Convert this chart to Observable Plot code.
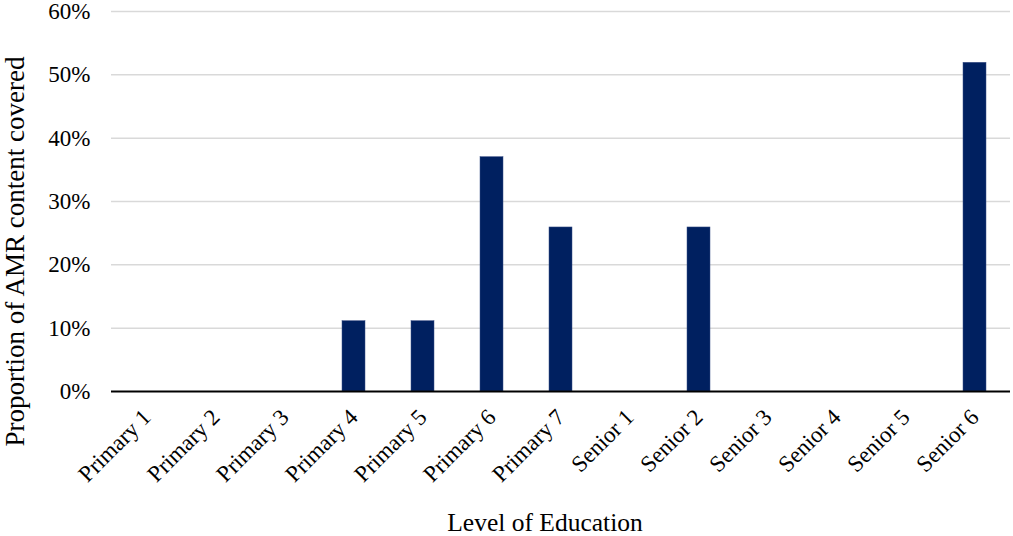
<!DOCTYPE html>
<html>
<head>
<meta charset="utf-8">
<script src="https://cdn.jsdelivr.net/npm/d3@7"></script>
<script src="https://cdn.jsdelivr.net/npm/@observablehq/plot@0.6"></script>
<style>
  html, body { margin: 0; padding: 0; background: #fff; }
</style>
</head>
<body>
<div id="chart"></div>
<script>
const levels = ["Primary 1","Primary 2","Primary 3","Primary 4","Primary 5","Primary 6","Primary 7","Senior 1","Senior 2","Senior 3","Senior 4","Senior 5","Senior 6"];
const coverage = [0, 0, 0, 0.111, 0.111, 0.370, 0.259, 0, 0.259, 0, 0, 0, 0.519];
const yTicks = [0, 0.1, 0.2, 0.3, 0.4, 0.5, 0.6];
const xTitle = "Level of Education";
const yTitle = "Proportion of AMR content covered";

const data = levels.map((level, i) => ({level, value: coverage[i]}));

const chart = Plot.plot({
  width: 1013,
  height: 536,
  marginLeft: 111,
  marginRight: 3,
  marginTop: 11,
  marginBottom: 145,
  style: {fontFamily: "Liberation Serif", fontSize: "23px", color: "#000", background: "#fff", overflow: "visible"},
  x: {domain: levels, paddingInner: 0.665, paddingOuter: 0.3325, align: 0.5},
  y: {domain: [0, 0.6]},
  marks: [
    Plot.ruleY(yTicks.slice(1), {stroke: "#d9d9d9", strokeWidth: 1.5}),
    Plot.barY(data, {x: "level", y: "value", fill: "#002060", stroke: "#3a4f86", strokeWidth: 0.5}),
    Plot.ruleY([0], {stroke: "#000", strokeWidth: 2}),
    Plot.axisY({ticks: yTicks, tickFormat: d3.format(".0%"), tickSize: 0, tickPadding: 21, fontSize: 23, label: null}),
    Plot.axisX({tickSize: 0, tickRotate: -45, tickPadding: 22, fontSize: 23, label: null}),
    Plot.text([xTitle], {frameAnchor: "bottom", dx: -16, dy: 139, text: d => d, fontSize: 25.5, textAnchor: "middle", lineAnchor: "bottom"}),
    Plot.text([yTitle], {frameAnchor: "left", dx: -96, dy: 50, rotate: -90, text: d => d, fontSize: 27, textAnchor: "middle"})
  ]
});
document.getElementById("chart").appendChild(chart);
</script>
</body>
</html>
